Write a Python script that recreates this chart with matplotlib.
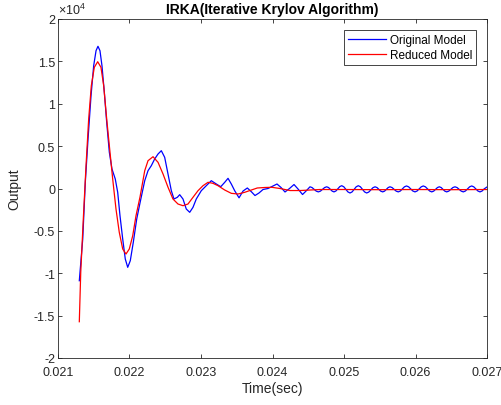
import matplotlib
matplotlib.use("Agg")
import matplotlib.pyplot as plt
from matplotlib.ticker import FuncFormatter, MultipleLocator

# step response (time in s, output)
t_orig = [0.021298, 0.021346, 0.021382, 0.021420, 0.021462, 0.021499, 0.021532,
          0.021559, 0.021587, 0.021615, 0.021648, 0.021681, 0.021718, 0.021755,
          0.021801, 0.021835, 0.021867, 0.021905, 0.021941, 0.021975, 0.022011,
          0.022053, 0.022101, 0.022147, 0.022213, 0.022259, 0.022305, 0.022352,
          0.022399, 0.022445, 0.022492, 0.022539, 0.022585, 0.022622, 0.022669,
          0.022702, 0.022748, 0.022794, 0.022842, 0.022888, 0.022934, 0.023004,
          0.023074, 0.023144, 0.023214, 0.023276, 0.023332, 0.023378, 0.023424,
          0.023471, 0.023532, 0.023588, 0.023648, 0.023704, 0.023755, 0.023811,
          0.023867, 0.023937, 0.023993, 0.024063, 0.024119, 0.024175, 0.024238,
          0.024301, 0.024357, 0.024420, 0.024469, 0.024524, 0.024553, 0.024583,
          0.024612, 0.024641, 0.024670, 0.024700, 0.024729, 0.024758, 0.024784,
          0.024809, 0.024835, 0.024860, 0.024887, 0.024914, 0.024941, 0.024968,
          0.024997, 0.025026, 0.025055, 0.025084, 0.025113, 0.025142, 0.025171,
          0.025200, 0.025229, 0.025259, 0.025288, 0.025317, 0.025346, 0.025376,
          0.025405, 0.025434, 0.025461, 0.025488, 0.025514, 0.025541, 0.025567,
          0.025592, 0.025618, 0.025643, 0.025672, 0.025701, 0.025730, 0.025759,
          0.025788, 0.025817, 0.025845, 0.025874, 0.025904, 0.025934, 0.025963,
          0.025993, 0.026022, 0.026051, 0.026080, 0.026109, 0.026139, 0.026168,
          0.026198, 0.026227, 0.026254, 0.026280, 0.026307, 0.026333, 0.026359,
          0.026385, 0.026410, 0.026436, 0.026465, 0.026494, 0.026523, 0.026552,
          0.026581, 0.026611, 0.026640, 0.026669, 0.026698, 0.026728, 0.026757,
          0.026786, 0.026815, 0.026844, 0.026873, 0.026902, 0.026931, 0.026960,
          0.027000]
y_orig = [-10880, -5960, 730, 5840, 10950, 14490, 16260,
          16780, 16260, 14490, 11350, 7810, 4270, 2300,
          1120, -450, -3210, -5960, -8320, -9300, -8520,
          -6350, -3600, -1700, 920, 2100, 2690, 3480,
          4070, 4460, 3680, 1710, -260, -1240, -1040,
          -730, -1240, -2420, -2810, -2220, -1240, -260,
          330, 920, 530, 210, 730, 1200, 530,
          -260, -1100, -300, 60, -380, -830, -530,
          -120, 0, 240, 530, 120, -410, 0,
          470, -60, -710, -300, 200, 112, -100,
          -312, -400, -312, -100, 112, 200, 112,
          -100, -312, -400, -293, -35, 223, 330,
          204, -100, -404, -530, -404, -100, 204,
          330, 204, -100, -404, -530, -423, -165,
          93, 200, 112, -100, -312, -400, -312,
          -100, 112, 200, 112, -100, -312, -400,
          -297, -50, 197, 300, 197, -50, -297,
          -400, -297, -50, 197, 300, 197, -50,
          -297, -400, -312, -100, 112, 200, 112,
          -100, -312, -400, -312, -100, 112, 200,
          112, -100, -312, -400, -297, -50, 197,
          300, 197, -50, -297, -400, -297, -50,
          180]

t_red = [0.021298, 0.021318, 0.021354, 0.021392, 0.021429, 0.021466, 0.021508,
         0.021555, 0.021601, 0.021639, 0.021681, 0.021718, 0.021765, 0.021811,
         0.021857, 0.021905, 0.021951, 0.021997, 0.022045, 0.022091, 0.022147,
         0.022213, 0.022259, 0.022329, 0.022399, 0.022469, 0.022539, 0.022608,
         0.022678, 0.022748, 0.022818, 0.022888, 0.022958, 0.023028, 0.023098,
         0.023168, 0.023238, 0.023332, 0.023424, 0.023518, 0.023611, 0.023704,
         0.023787, 0.023895, 0.023993, 0.024105, 0.024245, 0.024385, 0.024664,
         0.025000, 0.025500, 0.026000, 0.026500, 0.027000]
y_red = [-15720, -9890, -3600, 2690, 8200, 12130, 14300,
         14960, 14300, 12130, 8200, 5050, 1120, -2420,
         -5170, -7140, -7730, -7140, -5570, -3210, -1000,
         2100, 3280, 3750, 3090, 1710, 140, -1240,
         -1830, -2030, -1830, -1040, -260, 330, 730,
         610, 330, -180, -570, -650, -450, -180,
         60, 120, 140, 0, -240, -240, -120,
         -120, -140, -120, -140, -120]

plt.rcParams["font.family"] = ["Liberation Sans", "DejaVu Sans"]
plt.rcParams["mathtext.default"] = "regular"
plt.rcParams["axes.unicode_minus"] = False

dark = "#262626"
fig = plt.figure(figsize=(5.02, 4.06), dpi=100)
ax = fig.add_axes([58 / 502, 47 / 406, 429 / 502, 339 / 406])

ax.plot(t_orig, y_orig, color="#0000ff", lw=0.9, label="Original Model")
ax.plot(t_red, y_red, color="#ff0000", lw=0.9, label="Reduced Model")

ax.set_xlim(0.021, 0.027)
ax.set_ylim(-20000, 20000)
ax.xaxis.set_major_locator(MultipleLocator(0.001))
ax.yaxis.set_major_locator(MultipleLocator(5000))
ax.xaxis.set_major_formatter(FuncFormatter(lambda v, p: f"{v:.3f}"))
ax.yaxis.set_major_formatter(FuncFormatter(lambda v, p: f"{v / 1e4:g}"))
ax.text(0, 1.006, r"$\times10^{4}$", transform=ax.transAxes, fontsize=9,
        color=dark, ha="left", va="bottom")

ax.tick_params(direction="in", top=True, right=True, length=3, width=0.6,
               labelsize=9, colors=dark)
ax.tick_params(axis="x", pad=6)
ax.tick_params(axis="y", pad=2)
for s in ax.spines.values():
    s.set_color(dark)
    s.set_linewidth(0.6)

ax.set_xlabel("Time(sec)", fontsize=10, color=dark, labelpad=2)
ax.set_ylabel("Output", fontsize=10, color=dark, labelpad=9)
ax.set_title("IRKA(Iterative Krylov Algorithm)", fontsize=10, fontweight="bold", pad=4)

leg = ax.legend(loc="upper right", fontsize=8.5, handlelength=3.2, handletextpad=0.35,
                labelspacing=0.3, borderpad=0.35, borderaxespad=0.9,
                fancybox=False, framealpha=1)
leg.get_frame().set_edgecolor(dark)
leg.get_frame().set_linewidth(0.6)

fig.savefig("out.png", dpi=100)
